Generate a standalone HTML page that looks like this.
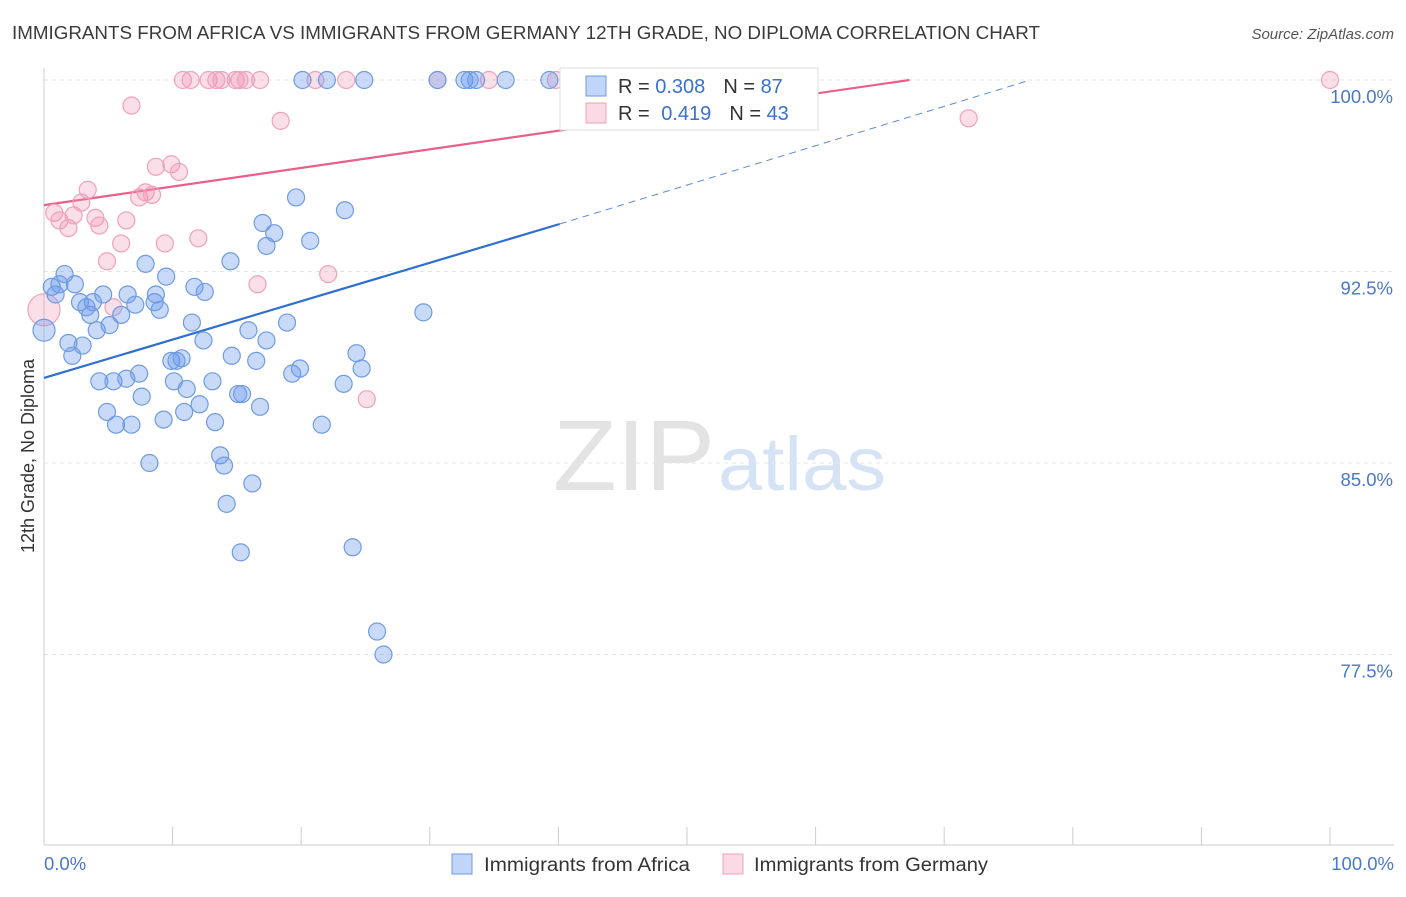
<!DOCTYPE html>
<html><head><meta charset="utf-8"><style>
body{margin:0;background:#fff;font-family:"Liberation Sans",sans-serif}
svg text{font-family:"Liberation Sans",sans-serif}
</style></head><body>
<svg id="chart" width="1406" height="892" xmlns="http://www.w3.org/2000/svg">
<text x="12" y="39" font-size="18" fill="#3a3a3a" textLength="1028" lengthAdjust="spacingAndGlyphs">IMMIGRANTS FROM AFRICA VS IMMIGRANTS FROM GERMANY 12TH GRADE, NO DIPLOMA CORRELATION CHART</text>
<text x="1394" y="39" font-size="15" fill="#555" text-anchor="end" font-style="italic">Source: ZipAtlas.com</text>
<g><text x="553" y="490" font-size="100" fill="#e3e3e3" font-family="Liberation Serif" textLength="162" lengthAdjust="spacingAndGlyphs">ZIP</text><text x="718" y="490" font-size="76" fill="#d6e3f5" textLength="168" lengthAdjust="spacingAndGlyphs">atlas</text></g>
<g id="grid"></g><g id="axes"></g><g id="lines"></g><g id="pts"></g>
<text transform="translate(34,456) rotate(-90)" font-size="18" fill="#333" text-anchor="middle">12th Grade, No Diploma</text>
<text x="44" y="870" font-size="18.5" fill="#4a78c8">0.0%</text>
<text x="1394" y="870" font-size="18.5" fill="#4a78c8" text-anchor="end">100.0%</text>
<g>
<rect x="560" y="68" width="258" height="62" fill="#fff" stroke="#ddd"/>
<rect x="586" y="76" width="20" height="20" fill="rgba(100,149,237,0.4)" stroke="#6f9be0"/>
<rect x="586" y="103" width="20" height="20" fill="rgba(240,150,180,0.35)" stroke="#f0a0bc"/>
<text x="618" y="93" font-size="20" fill="#333">R = <tspan fill="#3a70d0">0.308</tspan><tspan dx="18">N = </tspan><tspan fill="#3a70d0">87</tspan></text>
<text x="618" y="120" font-size="20" fill="#333">R = <tspan dx="6" fill="#3a70d0">0.419</tspan><tspan dx="18">N = </tspan><tspan fill="#3a70d0">43</tspan></text>
</g>
<g>
<rect x="452" y="854" width="20" height="20" fill="rgba(100,149,237,0.4)" stroke="#6f9be0"/>
<text x="484" y="871" font-size="19" fill="#333" textLength="206" lengthAdjust="spacingAndGlyphs">Immigrants from Africa</text>
<rect x="723" y="854" width="20" height="20" fill="rgba(240,150,180,0.35)" stroke="#f0a0bc"/>
<text x="754" y="871" font-size="19" fill="#333" textLength="234" lengthAdjust="spacingAndGlyphs">Immigrants from Germany</text>
</g>
</svg>
<script>
const yTicks=[100,92.5,85,77.5];
const yTickLabels=["100.0%","92.5%","85.0%","77.5%"];
const xTicks=[0,10,20,30,40,50,60,70,80,90,100];
const africaX=[0,0.6,0.9,1.2,1.6,1.9,2.2,2.4,2.8,3,3.3,3.6,3.8,4.1,4.3,4.6,4.9,5.1,5.4,5.6,6,6.4,6.5,6.8,7.1,7.4,7.6,7.9,8.2,8.6,8.7,9,9.3,9.5,9.9,10.1,10.3,10.7,10.9,11.1,11.5,11.7,12.1,12.4,12.5,13.1,13.3,13.7,14,14.2,14.5,14.6,15.1,15.3,15.4,15.9,16.2,16.5,16.8,17,17.3,17.3,17.9,18.9,19.3,19.6,19.9,20.1,20.7,21.6,22,23.3,23.4,24,24.3,24.7,24.9,25.9,26.4,29.5,30.6,32.7,33.1,33.6,35.9,39.3];
const africaY=[90.2,91.9,91.6,92,92.4,89.7,89.2,92,91.3,89.6,91.1,90.8,91.3,90.2,88.2,91.6,87,90.4,88.2,86.5,90.8,88.3,91.6,86.5,91.2,88.5,87.6,92.8,85,91.3,91.6,91,86.7,92.3,89,88.2,89,89.1,87,87.9,90.5,91.9,87.3,89.8,91.7,88.2,86.6,85.3,84.9,83.4,92.9,89.2,87.7,81.5,87.7,90.2,84.2,89,87.2,94.4,89.8,93.5,94,90.5,88.5,95.4,88.7,100,93.7,86.5,100,88.1,94.9,81.7,89.3,88.7,100,78.4,77.5,90.9,100,100,100,100,100,100];
const germanyX=[0,0.8,1.2,1.9,2.3,2.9,3.4,4,4.3,4.9,5.4,6,6.4,6.8,7.4,7.9,8.4,8.7,9.4,9.9,10.5,10.8,11.4,12,12.8,13.4,13.8,14.9,15.2,15.7,16.6,16.8,18.4,21.1,22.1,23.5,25.1,30.6,34.6,39.8,71.9,100];
const germanyY=[91,94.8,94.5,94.2,94.7,95.2,95.7,94.6,94.3,92.9,91.1,93.6,94.5,99,95.4,95.6,95.5,96.6,93.6,96.7,96.4,100,100,93.8,100,100,100,100,100,100,92,100,98.4,100,92.4,100,87.5,100,100,100,98.5,100];
const africaTrend=[[0,88.33],[40.1,94.36],[76.7,100]];
const germanyTrend=[[0,95.1],[67.3,100]];
const X=v=>44+v*12.86, Y=v=>80+(100-v)/7.5*191.5;
const NS="http://www.w3.org/2000/svg";
function mk(p,t,a){const e=document.createElementNS(NS,t);for(const k in a)e.setAttribute(k,a[k]);document.getElementById(p).appendChild(e);return e;}
yTicks.forEach((t,i)=>{
 let g=mk('grid','line',{x1:44,x2:1394,y1:Y(t),y2:Y(t),stroke:'#e4e4e4','stroke-dasharray':'4,4'});
 
 
 let l=mk('grid','text',{x:1393,y:Y(t)+23,'font-size':18.5,fill:'#4a78c8','text-anchor':'end'});
 l.textContent=yTickLabels[i];
 
 
});
let ax=mk('axes','line',{x1:44,x2:1394,y1:845,y2:845,stroke:'#ccc'});


let ay=mk('axes','line',{x1:44,x2:44,y1:68,y2:845,stroke:'#ccc'});


xTicks.forEach(t=>{let e=mk('axes','line',{x1:X(t),x2:X(t),y1:827,y2:845,stroke:'#ccc'});
 
 });
function pts(xs,ys,fill,stroke,name){xs.forEach((x,i)=>{let c=mk('pts','circle',{cx:X(x),cy:Y(ys[i]),r:(x===0&&name==='germany-point')?16:(x===0?11:8.5),fill:fill,stroke:stroke,'stroke-width':1.2});
 
 });}
pts(germanyX,germanyY,'rgba(240,150,180,0.3)','#f0a0bc','germany-point');
pts(africaX,africaY,'rgba(100,149,237,0.35)','#6f9be0','africa-point');
let b1=mk('lines','line',{x1:X(africaTrend[0][0]),y1:Y(africaTrend[0][1]),x2:X(africaTrend[1][0]),y2:Y(africaTrend[1][1]),stroke:'#2f6fd0','stroke-width':2.2});


let b2=mk('lines','line',{x1:X(africaTrend[1][0]),y1:Y(africaTrend[1][1]),x2:X(africaTrend[2][0]),y2:Y(africaTrend[2][1]),stroke:'#5a8ad8','stroke-width':1,'stroke-dasharray':'7,5'});


let p1=mk('lines','line',{x1:X(germanyTrend[0][0]),y1:Y(germanyTrend[0][1]),x2:X(germanyTrend[1][0]),y2:Y(germanyTrend[1][1]),stroke:'#e8608a','stroke-width':2.2});


</script>
</body></html>
